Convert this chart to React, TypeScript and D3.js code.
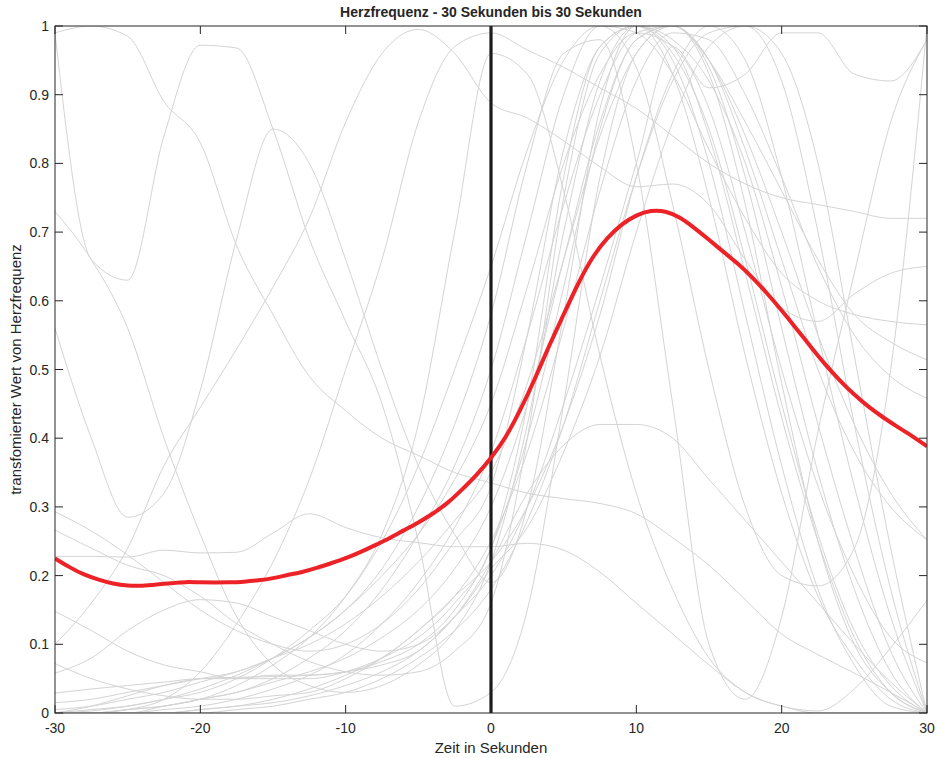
import React from 'react'
import * as d3 from 'd3'

const W = 937, H = 758
const margin = { top: 26, right: 10, bottom: 45, left: 55 }

const xTicks = [-30, -20, -10, 0, 10, 20, 30]
const yTicks = [0, 0.1, 0.2, 0.3, 0.4, 0.5, 0.6, 0.7, 0.8, 0.9, 1]

// sample times of the single trials
const trialTimes = [-30, -27.5, -25, -22.5, -20, -17.5, -15, -12.5, -10, -7.5, -5, -2.5, 0,
  2.5, 5, 7.5, 10, 12.5, 15, 17.5, 20, 22.5, 25, 27.5, 30]

const trials = [
  [.99, 1.0, .985, .89, .83, .68, .58, .49, .44, .40, .375, .35, .335, .32, .312, .305, .29, .255, .215, .165, .115, .085, .058, .03, 0],
  [.99, .66, .63, .84, .972, .968, .85, .69, .57, .45, .25, .01, .03, .15, .45, .78, .96, 1.0, .94, .78, .56, .35, .18, .06, 0],
  [.56, .40, .285, .32, .47, .69, .85, .80, .66, .50, .36, .26, .19, .30, .58, .88, 1.0, .97, .84, .64, .43, .25, .11, .03, 0],
  [.73, .66, .56, .40, .26, .14, .07, .04, .03, .04, .07, .12, .22, .42, .70, .92, 1.0, .95, .80, .58, .36, .18, .07, .01, 0],
  [.10, .16, .24, .36, .445, .53, .62, .72, .86, .96, .995, .96, .888, .866, .833, .795, .766, .77, .74, .66, .59, .57, .61, .64, .65],
  [0, 0, .005, .02, .06, .13, .22, .34, .50, .66, .86, .97, .99, .965, .94, .91, .88, .84, .80, .77, .75, .74, .73, .72, .72],
  [0, 0, 0, .01, .02, .04, .07, .11, .17, .26, .42, .70, .96, .93, .76, .52, .32, .18, .08, .03, .01, 0, 0, 0, 0],
  [.293, .265, .23, .19, .15, .12, .10, .09, .10, .13, .18, .25, .33, .55, .82, .97, 1.0, .96, .85, .66, .45, .26, .12, .04, 0],
  [.266, .24, .215, .20, .17, .13, .10, .075, .06, .055, .06, .09, .16, .40, .75, .96, 1.0, .98, .92, .80, .62, .42, .24, .09, 0],
  [.228, .228, .227, .237, .233, .234, .262, .29, .27, .255, .248, .242, .242, .247, .237, .205, .16, .115, .07, .03, .01, .003, .035, .095, .164],
  [.148, .12, .09, .07, .06, .05, .05, .05, .06, .08, .11, .16, .24, .45, .78, .97, 1.0, .93, .75, .52, .32, .17, .08, .02, 0],
  [.072, .05, .035, .025, .02, .02, .025, .03, .05, .08, .12, .17, .22, .30, .42, .58, .78, .93, 1.0, .95, .78, .55, .33, .14, 0],
  [.058, .08, .12, .15, .165, .16, .14, .12, .10, .09, .10, .14, .21, .27, .38, .52, .70, .86, .97, 1.0, .92, .70, .42, .18, 0],
  [.029, .035, .04, .045, .05, .05, .055, .055, .06, .07, .09, .14, .20, .30, .45, .62, .80, .97, .91, .93, .99, .99, .93, .92, .98],
  [.015, .02, .03, .04, .05, .06, .08, .10, .13, .17, .22, .28, .35, .48, .66, .84, .96, 1.0, .95, .82, .66, .50, .38, .30, .252],
  [.005, .01, .02, .03, .045, .06, .08, .11, .15, .20, .26, .34, .45, .62, .80, .93, .99, .97, .88, .70, .50, .33, .20, .11, .073],
  [0, .005, .01, .02, .03, .05, .08, .12, .17, .25, .36, .50, .65, .82, .95, 1.0, .94, .74, .50, .30, .20, .185, .24, .50, 1.0],
  [0, .003, .01, .02, .035, .055, .08, .11, .15, .21, .30, .42, .58, .80, .96, .98, .80, .45, .10, .02, .14, .41, .64, .86, .98],
  [0, 0, .005, .01, .02, .03, .05, .08, .12, .18, .26, .36, .50, .70, .90, 1.0, .99, .93, .82, .72, .64, .60, .58, .57, .565],
  [0, 0, 0, .005, .01, .02, .035, .055, .085, .13, .19, .27, .38, .55, .74, .90, .99, 1.0, .95, .86, .76, .66, .58, .54, .514],
  [0, 0, 0, 0, .005, .01, .02, .035, .055, .08, .12, .17, .25, .38, .56, .76, .92, .99, .98, .90, .78, .65, .55, .49, .458],
  [0, 0, 0, 0, .005, .01, .015, .025, .04, .06, .09, .14, .22, .32, .39, .42, .42, .40, .34, .28, .22, .16, .10, .045, 0],
  [0, 0, .005, .01, .02, .03, .045, .06, .08, .11, .15, .21, .30, .45, .66, .86, .98, 1.0, .95, .84, .70, .55, .42, .32, .252],
  [0, 0, 0, 0, 0, .005, .01, .02, .03, .05, .08, .12, .18, .28, .42, .60, .78, .92, .99, 1.0, .96, .80, .52, .24, 0],
  [0, .01, .025, .04, .05, .052, .053, .055, .06, .075, .10, .15, .24, .40, .62, .85, .98, 1.0, .93, .74, .48, .25, .10, .03, 0],
]

// mean curve
const meanTimes = [-30, -29, -28, -27, -26, -25, -24, -23, -22, -21, -20, -19, -18, -17, -16, -15, -14, -13, -12, -11,
  -10, -9, -8, -7, -6, -5, -4, -3, -2, -1, 0, 1, 2, 3, 4, 5, 6, 7, 8, 9, 10, 11, 12, 13, 14, 15, 16, 17, 18, 19, 20,
  21, 22, 23, 24, 25, 26, 27, 28, 29, 30]
const meanValues = [.225, .212, .201, .194, .188, .185, .185, .187, .189, .191, .190, .190, .190, .191, .193, .196, .201, .205, .211, .218,
  .225, .234, .244, .254, .266, .277, .290, .305, .325, .346, .371, .400, .440, .485, .535, .580, .626, .665, .692, .712,
  .725, .732, .731, .722, .706, .689, .671, .654, .634, .611, .586, .560, .533, .507, .484, .463, .445, .430, .416, .403, .388]

const font = '"Liberation Sans", Arial, Helvetica, sans-serif'

export default function App() {
  const innerW = W - margin.left - margin.right
  const innerH = H - margin.top - margin.bottom
  const x = d3.scaleLinear().domain([-30, 30]).range([margin.left, margin.left + innerW])
  const y = d3.scaleLinear().domain([0, 1]).range([margin.top + innerH, margin.top])

  const trialLine = d3.line<number>()
    .x((_, i) => x(trialTimes[i]))
    .y(d => y(d))
    .curve(d3.curveMonotoneX)

  const meanLine = d3.line<number>()
    .x((_, i) => x(meanTimes[i]))
    .y(d => y(d))
    .curve(d3.curveBasis)

  const x0 = x(-30), x1 = x(30), y0 = y(0), y1 = y(1)
  const axisColor = '#262626'
  const tickLen = 8

  return (
    <svg width={W} height={H} style={{ position: 'absolute', left: 0, top: 0, background: '#fff' }}
      fontFamily={font}>
      <defs>
        <clipPath id="plot">
          <rect x={x0} y={y1} width={x1 - x0} height={y0 - y1} />
        </clipPath>
      </defs>
      <g clipPath="url(#plot)" fill="none">
        {trials.map((t, i) => (
          <path key={i} d={trialLine(t) || ''} stroke="#d4d4d4" strokeWidth={1} />
        ))}
        <line x1={x(0)} x2={x(0)} y1={y(0)} y2={y(1)} stroke="#1a1a1a" strokeWidth={3.2} />
        <path d={meanLine(meanValues) || ''} stroke="#ec2227" strokeWidth={4} strokeLinejoin="round" />
      </g>

      {/* box */}
      <rect x={x0} y={y1} width={x1 - x0} height={y0 - y1} fill="none" stroke={axisColor} strokeWidth={1} />

      {xTicks.map(t => (
        <g key={'x' + t}>
          <line x1={x(t)} x2={x(t)} y1={y0} y2={y0 - tickLen} stroke={axisColor} />
          <line x1={x(t)} x2={x(t)} y1={y1} y2={y1 + tickLen} stroke={axisColor} />
          <text x={x(t)} y={y0 + 20} textAnchor="middle" fontSize={14} fill={axisColor}>{t}</text>
        </g>
      ))}
      {yTicks.map(t => (
        <g key={'y' + t}>
          <line x1={x0} x2={x0 + tickLen} y1={y(t)} y2={y(t)} stroke={axisColor} />
          <line x1={x1} x2={x1 - tickLen} y1={y(t)} y2={y(t)} stroke={axisColor} />
          <text x={x0 - 6} y={y(t) + 5} textAnchor="end" fontSize={14} fill={axisColor}>{t}</text>
        </g>
      ))}

      <text x={(x0 + x1) / 2} y={17} textAnchor="middle" fontSize={14} fontWeight="bold" fill={axisColor}>
        Herzfrequenz - 30 Sekunden bis 30 Sekunden
      </text>
      <text x={(x0 + x1) / 2} y={753} textAnchor="middle" fontSize={15} fill={axisColor}>Zeit in Sekunden</text>
      <text transform={`translate(21,${(y0 + y1) / 2}) rotate(-90)`} textAnchor="middle" fontSize={15} fill={axisColor}>
        transfomierter Wert von Herzfrequenz
      </text>
    </svg>
  )
}
